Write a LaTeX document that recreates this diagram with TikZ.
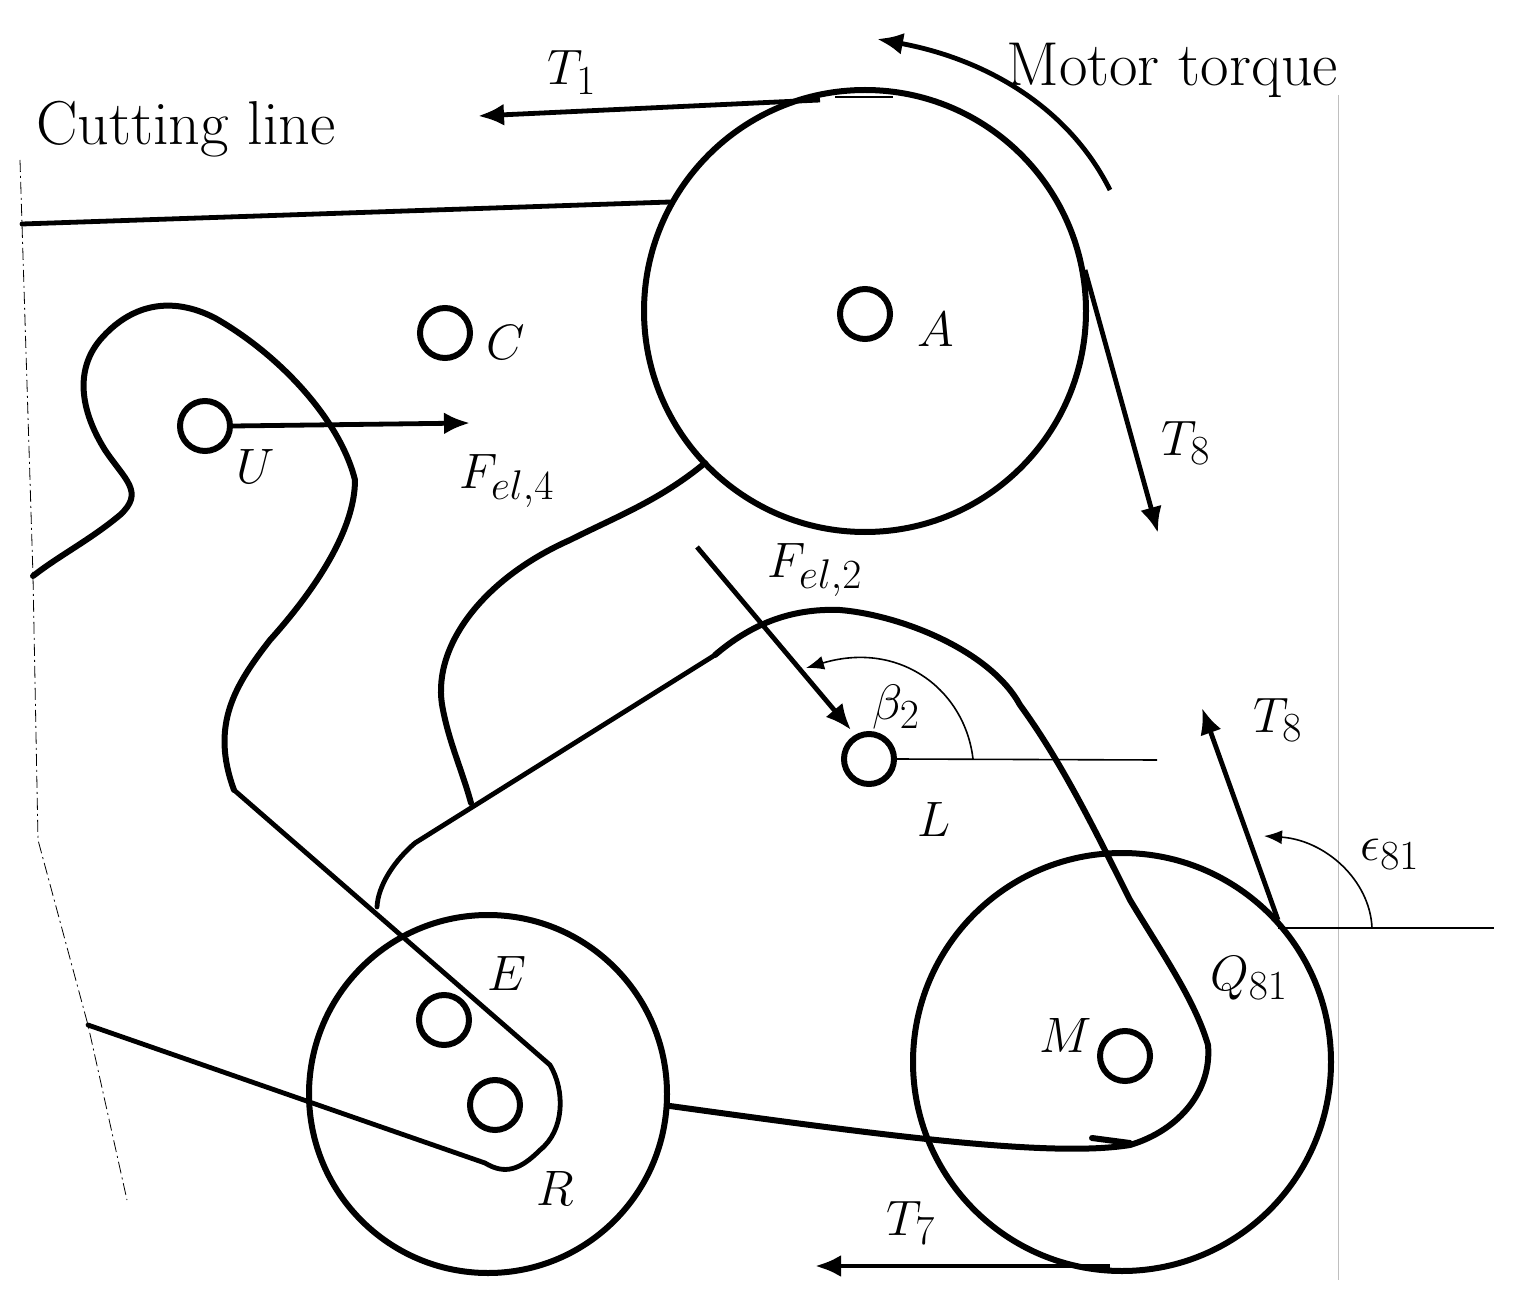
\documentclass[tikz,border=0pt]{standalone}
\usetikzlibrary{arrows.meta}
\tikzset{
  heavy/.style={line width=3pt,line cap=round,line join=round,black},
  medium/.style={line width=2.4pt,line cap=round,line join=round,black},
  thinl/.style={line width=0.8pt,black},
  force/.style={line width=2.4pt,-{Latex[length=13pt,width=11pt]}},
  angarrow/.style={line width=0.8pt,-{Latex[length=9pt,width=7pt]}},
  pin/.style={circle,draw,line width=3pt,minimum size=25pt,inner sep=0pt},
  lab/.style={inner sep=0pt,font=\fontsize{31}{36}\selectfont},
  axisl/.style={line width=0.4pt,black,dash pattern=on 6pt off 2pt on 1pt off 2pt}
}
\begin{document}
\begin{tikzpicture}[x=0.5pt,y=-0.5pt]
\useasboundingbox (0,0) rectangle (1520,1310);
% wheels
\node[circle,draw,heavy,minimum size=221pt,inner sep=0pt] (wheelA) at (865,311) {};
\node[circle,draw,heavy,minimum size=179pt,inner sep=0pt] (wheelR) at (488,1094) {};
\node[circle,draw,heavy,minimum size=209pt,inner sep=0pt] (wheelM) at (1122,1062) {};
% pins
\node[pin] (pinA) at (865,314) {};
\node[pin] (pinC) at (445,333) {};
\node[pin] (pinU) at (205,426) {};
\node[pin] (pinL) at (869,759) {};
\node[pin] (pinE) at (444,1020) {};
\node[pin] (pinR) at (495,1105) {};
\node[pin] (pinM) at (1125,1056) {};
% coordinates for free ends
\coordinate (t1a) at (820,100); \coordinate (t1b) at (478,116);
\coordinate (t8a) at (1085,270); \coordinate (t8b) at (1158,533);
\coordinate (t7a) at (1110,1266); \coordinate (t7b) at (815,1266);
\coordinate (t8c) at (1278,920); \coordinate (t8d) at (1202,708);
\coordinate (fa) at (697,547); \coordinate (fb) at (851,730);
\coordinate (q) at (1278,928); \coordinate (qe) at (1494,928);
\coordinate (le) at (1157,760);
% outline
\draw[medium] (22,224) -- (670,202);
\draw[heavy] (33,576) .. controls (60,555) and (90,540) .. (120,515)
 .. controls (145,492) and (125,480) .. (105,450)
 .. controls (80,410) and (75,370) .. (100,340)
 .. controls (130,305) and (170,295) .. (215,318)
 .. controls (280,355) and (340,420) .. (355,480)
 .. controls (355,530) and (315,590) .. (270,640)
 .. controls (235,685) and (210,725) .. (234,790);
\draw[medium] (234,790) -- (550,1065)
 .. controls (565,1090) and (565,1130) .. (540,1150)
 .. controls (520,1170) and (505,1175) .. (485,1163)
 -- (88,1025);
\draw[heavy] (705,463) .. controls (660,500) and (620,515) .. (570,540)
 .. controls (480,580) and (430,650) .. (443,710)
 .. controls (450,745) and (462,770) .. (471,803);
\draw[medium] (377,907) .. controls (378,885) and (395,860) .. (415,843)
 -- (715,655);
\draw[heavy] (715,655) .. controls (750,625) and (790,608) .. (840,610)
 .. controls (900,615) and (990,650) .. (1020,705)
 .. controls (1060,760) and (1090,820) .. (1130,900)
 .. controls (1160,950) and (1195,1000) .. (1208,1045)
 .. controls (1212,1090) and (1180,1130) .. (1130,1145)
 .. controls (1050,1158) and (880,1135) .. (670,1106);
\draw[heavy] (1092,1138) -- (1130,1143);
% frame lines
\draw[axisl] (20,160) -- (22,224) -- (33,576) -- (38,840) -- (88,1025) -- (127,1200);
\draw[line width=0.2pt,black!25] (1338,95) -- (1338,1280);
\draw[thinl] (835,97) -- (893,97);
% forces
\draw[force] (t1a) -- (t1b);
\draw[force] (t8a) -- (t8b);
\draw[force] (t7a) -- (t7b);
\draw[force] (t8c) -- (t8d);
\draw[force] (fa) -- (fb);
\draw[force] (pinU.east) -- (470,423) coordinate (ue);
\draw[line width=2.4pt,-{Latex[length=13pt,width=11pt]}] (1110,190) .. controls (1070,110) and (990,60) .. (877,39);
% horizontal reference lines
\draw[thinl] (pinL.east) -- (le);
\draw[thinl] (q) -- (qe);
\draw[angarrow] (973,759) .. controls (965,690) and (900,640) .. (806,668);
\draw[angarrow] (1372,928) .. controls (1370,880) and (1325,840) .. (1264,836);
% labels
\node[lab,anchor=base west] (l1) at (36,145) {Cutting line};
\node[lab,anchor=base west] (l2) at (1006,86) {Motor torque};
\node[lab,anchor=base] (lT1) at (572,85) {$T_1$};
\node[lab,anchor=base] (lC) at (506,360) {$C$};
\node[lab,anchor=base] (lA) at (936,347) {$A$};
\node[lab,anchor=base] (lU) at (256,483) {$U$};
\node[lab,anchor=base] (lF4) at (507,488) {$F_{el,4}$};
\node[lab,anchor=base] (lT8a) at (1186,455) {$T_8$};
\node[lab,anchor=base] (lF2) at (815,577) {$F_{el,2}$};
\node[lab,anchor=base] (lb) at (896,719) {$\beta_2$};
\node[lab,anchor=base] (lT8b) at (1278,732) {$T_8$};
\node[lab,anchor=base] (lL) at (934,836) {$L$};
\node[lab,anchor=base] (le81) at (1390,860) {$\epsilon_{81}$};
\node[lab,anchor=base] (lE) at (507,990) {$E$};
\node[lab,anchor=base] (lQ) at (1249,990) {$Q_{81}$};
\node[lab,anchor=base] (lM) at (1066,1052) {$M$};
\node[lab,anchor=base] (lR) at (555,1205) {$R$};
\node[lab,anchor=base] (lT7) at (911,1235) {$T_7$};
\end{tikzpicture}
\end{document}
